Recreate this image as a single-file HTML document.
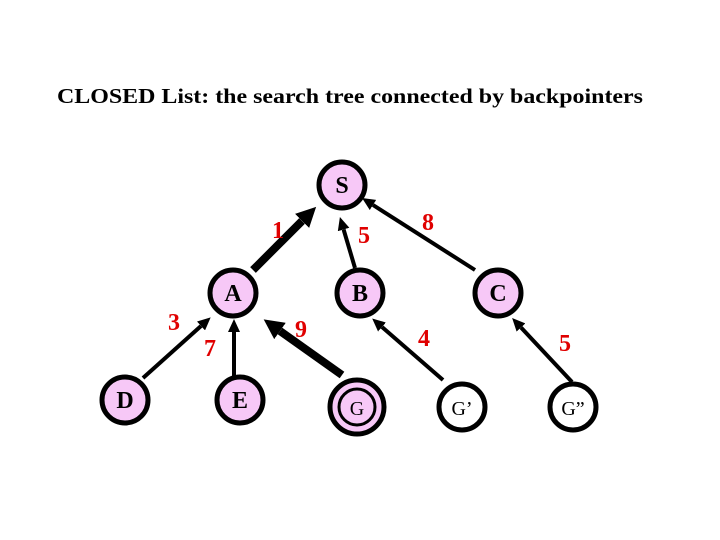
<!DOCTYPE html>
<html><head><meta charset="utf-8"><style>body{margin:0;background:#fff}svg{display:block}</style></head>
<body>
<svg width="720" height="540" viewBox="0 0 720 540" xmlns="http://www.w3.org/2000/svg">
<defs>
<marker id="ah" markerWidth="14" markerHeight="12" refX="0" refY="6" orient="auto" markerUnits="userSpaceOnUse"><path d="M0,0 L13,6 L0,12 Z" fill="#000"/></marker>
<marker id="ahs" markerWidth="21" markerHeight="20" refX="0" refY="10" orient="auto" markerUnits="userSpaceOnUse"><path d="M0,0 L20,10 L0,20 Z" fill="#000"/></marker>
</defs>
<text x="57" y="103" font-family="Liberation Serif, serif" font-weight="bold" font-size="21" textLength="586" lengthAdjust="spacingAndGlyphs">CLOSED List: the search tree connected by backpointers</text>
<g stroke="#000" fill="none">
<line x1="253" y1="270" x2="302" y2="221" stroke-width="8" marker-end="url(#ahs)"/>
<line x1="355" y1="268" x2="343.6" y2="229.5" stroke-width="4" marker-end="url(#ah)"/>
<line x1="475" y1="270" x2="373" y2="205" stroke-width="4" marker-end="url(#ah)"/>
<line x1="143" y1="378" x2="201" y2="326" stroke-width="4" marker-end="url(#ah)"/>
<line x1="234" y1="378" x2="234" y2="332" stroke-width="4" marker-end="url(#ah)"/>
<line x1="342" y1="375" x2="280" y2="331" stroke-width="8" marker-end="url(#ahs)"/>
<line x1="443" y1="380" x2="382" y2="327" stroke-width="4" marker-end="url(#ah)"/>
<line x1="572" y1="382" x2="521" y2="327.5" stroke-width="4" marker-end="url(#ah)"/>
</g>
<g stroke="#000" stroke-width="5" fill="#f7c8f7">
<circle cx="342" cy="185" r="23"/>
<circle cx="233" cy="293" r="23"/>
<circle cx="360" cy="293" r="23"/>
<circle cx="498" cy="293" r="23"/>
<circle cx="125" cy="400" r="23"/>
<circle cx="240" cy="400" r="23"/>
<circle cx="357" cy="407" r="27"/>
<circle cx="357" cy="407" r="18" stroke-width="3"/>
<circle cx="462" cy="407" r="23" fill="#fff"/>
<circle cx="573" cy="407" r="23" fill="#fff"/>
</g>
<g font-family="Liberation Serif, serif" font-weight="bold" font-size="24" text-anchor="middle" fill="#000">
<text x="342" y="193">S</text>
<text x="233" y="301">A</text>
<text x="360" y="301">B</text>
<text x="498" y="301">C</text>
<text x="125" y="408">D</text>
<text x="240" y="408">E</text>
<text x="357" y="415" font-size="20" font-weight="normal">G</text>
<text x="462" y="415" font-size="20" font-weight="normal">G’</text>
<text x="573" y="415" font-size="20" font-weight="normal">G”</text>
</g>
<g font-family="Liberation Serif, serif" font-weight="bold" font-size="24" text-anchor="middle" fill="#e00000">
<text x="278" y="238">1</text>
<text x="364" y="243">5</text>
<text x="428" y="230">8</text>
<text x="174" y="330">3</text>
<text x="210" y="356">7</text>
<text x="301" y="337">9</text>
<text x="424" y="346">4</text>
<text x="565" y="351">5</text>
</g>
</svg>
</body></html>
